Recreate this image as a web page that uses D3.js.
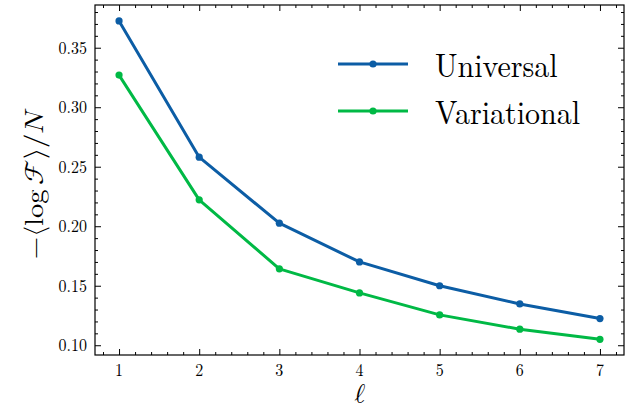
<!DOCTYPE html>
<html>
<head>
<meta charset="utf-8">
<script src="https://cdn.jsdelivr.net/npm/d3@7"></script>
<style>
  html, body { margin: 0; padding: 0; background: #fff; }
  svg { display: block; }
</style>
</head>
<body>
<svg id="chart" width="635" height="416"></svg>
<script>
// Block sizes ℓ and the mean negative log-fidelity per site
const ells = [1, 2, 3, 4, 5, 6, 7];
const universal = [0.3725, 0.258, 0.2026, 0.170, 0.150, 0.1347, 0.1224];
const variational = [0.327, 0.2222, 0.1642, 0.144, 0.1255, 0.1135, 0.105];
const seriesNames = ["Universal", "Variational"];
const seriesColors = ["#0C5DA5", "#00B945"];
const xTicks = [1, 2, 3, 4, 5, 6, 7];
const yTicks = [0.10, 0.15, 0.20, 0.25, 0.30, 0.35];

const SERIF = '"Latin Modern Roman", "CMU Serif", "Liberation Serif", serif';
const MATH = '"Latin Modern Math", "Latin Modern Roman", "DejaVu Serif", serif';
const VSTRETCH = 1.1; // glyphs are drawn slightly taller than wide

const svg = d3.select("#chart");
const mLeft = 95, mRight = 624, mTop = 5, mBottom = 355;

const x = d3.scaleLinear().domain([0.7, 7.3]).range([mLeft, mRight]);
const y = d3.scaleLinear().domain([0.0918, 0.3859]).range([mBottom, mTop]);

const xMinor = d3.range(0.8, 7.3, 0.2).filter(v => Math.abs(v - Math.round(v)) > 1e-6);
const yMinor = d3.range(0.10, 0.386, 0.01).filter(v => Math.abs(v * 20 - Math.round(v * 20)) > 1e-6);

// Inward ticks on all four sides; labels are placed separately
function ticks(makeAxis, scale, tr, major, minor) {
  [[minor, 3], [major, 6]].forEach(([vals, len]) => {
    const g = svg.append("g").attr("transform", tr)
      .call(makeAxis(scale).tickValues(vals).tickSize(-len).tickFormat(""));
    g.select(".domain").remove();
    g.selectAll("text").remove();
    g.selectAll("line").attr("stroke", "#000").attr("stroke-width", 1);
  });
}
ticks(d3.axisBottom, x, `translate(0,${mBottom})`, xTicks, xMinor);
ticks(d3.axisTop, x, `translate(0,${mTop})`, xTicks, xMinor);
ticks(d3.axisLeft, y, `translate(${mLeft},0)`, yTicks, yMinor);
ticks(d3.axisRight, y, `translate(${mRight},0)`, yTicks, yMinor);

// Tick labels
svg.append("g").selectAll("text").data(xTicks).enter().append("text")
  .attr("transform", d => `translate(${x(d)},376) scale(1,${VSTRETCH})`)
  .attr("text-anchor", "middle")
  .style("font-family", SERIF).style("font-size", "16px")
  .text(d3.format("d"));
svg.append("g").selectAll("text").data(yTicks).enter().append("text")
  .attr("transform", d => `translate(87,${y(d) + 6}) scale(1,${VSTRETCH})`)
  .attr("text-anchor", "end")
  .style("font-family", SERIF).style("font-size", "16px")
  .text(d3.format(".2f"));

// Frame
svg.append("rect")
  .attr("x", mLeft).attr("y", mTop)
  .attr("width", mRight - mLeft).attr("height", mBottom - mTop)
  .attr("fill", "none").attr("stroke", "#000").attr("stroke-width", 1.2);

// Series
const allSeries = [universal, variational];
const line = d3.line().x((d, i) => x(ells[i])).y(d => y(d));
allSeries.forEach((vals, k) => {
  svg.append("path").datum(vals)
    .attr("d", line)
    .attr("fill", "none")
    .attr("stroke", seriesColors[k])
    .attr("stroke-width", 3)
    .attr("stroke-linejoin", "round");
  svg.selectAll(null).data(vals).enter().append("circle")
    .attr("cx", (d, i) => x(ells[i]))
    .attr("cy", d => y(d))
    .attr("r", 3.6)
    .attr("fill", seriesColors[k]);
});

// Legend
const legY = [64, 111];
seriesNames.forEach((name, k) => {
  svg.append("line")
    .attr("x1", 338).attr("x2", 408)
    .attr("y1", legY[k]).attr("y2", legY[k])
    .attr("stroke", seriesColors[k]).attr("stroke-width", 3);
  svg.append("circle").attr("cx", 373).attr("cy", legY[k]).attr("r", 3.6)
    .attr("fill", seriesColors[k]);
  svg.append("text")
    .attr("transform", `translate(435,${legY[k] + 13}) scale(1,${VSTRETCH})`)
    .style("font-family", SERIF).style("font-size", "30px")
    .text(name);
});

// Axis labels
svg.append("text")
  .attr("transform", `translate(360,403) scale(1,${VSTRETCH})`)
  .attr("text-anchor", "middle")
  .style("font-family", MATH).style("font-size", "26px")
  .text("ℓ");

const ylab = svg.append("text")
  .attr("transform", `translate(43,185) rotate(-90) scale(${VSTRETCH},1)`)
  .attr("text-anchor", "middle")
  .style("font-family", SERIF).style("font-size", "26px");
ylab.append("tspan").style("font-family", MATH).text("−⟨");
ylab.append("tspan").text("log");
ylab.append("tspan").attr("dx", 4).style("font-family", MATH).text("ℱ⟩/");
ylab.append("tspan").style("font-family", MATH).text("𝑁");
</script>
</body>
</html>
